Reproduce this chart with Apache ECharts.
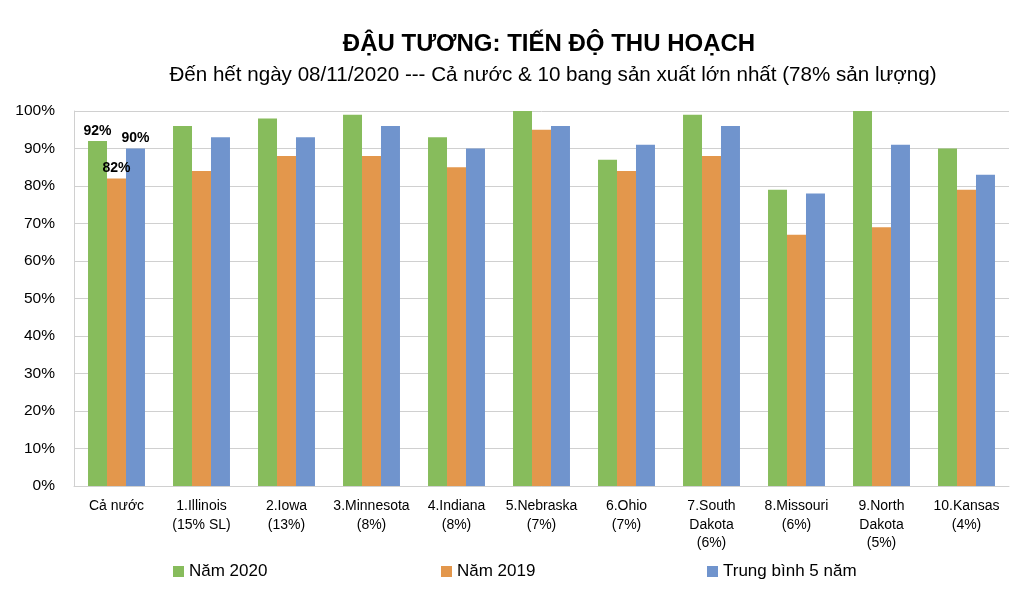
<!DOCTYPE html>
<html>
<head>
<meta charset="utf-8">
<style>
body { margin: 0; background: #fff; }
#chart { width: 1024px; height: 598px; }
</style>
<script src="https://cdn.jsdelivr.net/npm/echarts@6/dist/echarts.min.js"></script>
</head>
<body>
<div id="chart"></div>
<script>
// categories and series values
const categories = [
  "Cả nước", "1.Illinois\n(15% SL)", "2.Iowa\n(13%)", "3.Minnesota\n(8%)",
  "4.Indiana\n(8%)", "5.Nebraska\n(7%)", "6.Ohio\n(7%)", "7.South\nDakota\n(6%)",
  "8.Missouri\n(6%)", "9.North\nDakota\n(5%)", "10.Kansas\n(4%)"
];
const nam2020 = [92, 96, 98, 99, 93, 100, 87, 99, 79, 100, 90];
const nam2019 = [82, 84, 88, 88, 85, 95, 84, 88, 67, 69, 79];
const tb5nam = [90, 93, 93, 96, 90, 96, 91, 96, 78, 91, 83];
const seriesNames = ["Năm 2020", "Năm 2019", "Trung bình 5 năm"];
const colors = ["#87BC5C", "#E3974C", "#7094CD"];

const font = "'Liberation Sans', sans-serif";

// only the first group ("Cả nước") carries value labels
function withFirstLabel(values) {
  return values.map((v, i) => i === 0
    ? { value: v, label: { show: true, position: "top", formatter: "{c}%",
        fontWeight: "bold", fontSize: 14, color: "#000", fontFamily: font, distance: 3 } }
    : v);
}

const chart = echarts.init(document.getElementById("chart"), null, { renderer: "canvas" });
chart.setOption({
  animation: false,
  title: [
    { text: "ĐẬU TƯƠNG: TIẾN ĐỘ THU HOẠCH", left: 544, top: 27, textAlign: "center",
      textStyle: { fontFamily: font, fontSize: 24, fontWeight: "bold", color: "#000" } },
    { text: "Đến hết ngày 08/11/2020 --- Cả nước & 10 bang sản xuất lớn nhất (78% sản lượng)",
      left: 548, top: 60, textAlign: "center",
      textStyle: { fontFamily: font, fontSize: 20.6, fontWeight: "normal", color: "#000" } }
  ],
  legend: seriesNames.map((name, i) => ({
    data: [name],
    left: [168, 436, 702][i],
    top: 558,
    itemWidth: 11, itemHeight: 11,
    icon: "rect",
    textStyle: { fontFamily: font, fontSize: 17, color: "#000" }
  })),
  grid: { left: 74, right: 15, top: 111, bottom: 112 },
  xAxis: {
    type: "category",
    data: categories,
    axisLine: { lineStyle: { color: "#d0d0d0" } },
    axisTick: { show: false },
    axisLabel: { interval: 0, margin: 11, lineHeight: 18.5,
      fontFamily: font, fontSize: 14, color: "#000" }
  },
  yAxis: {
    type: "value", min: 0, max: 100, interval: 10,
    axisLine: { show: true, lineStyle: { color: "#d0d0d0" } },
    axisTick: { show: false },
    splitLine: { lineStyle: { color: "#d0d0d0", width: 1 } },
    axisLabel: { formatter: "{value}%", margin: 19,
      fontFamily: font, fontSize: 15.5, color: "#000" }
  },
  series: [nam2020, nam2019, tb5nam].map((vals, i) => ({
    name: seriesNames[i],
    type: "bar",
    data: withFirstLabel(vals),
    barGap: "0%",
    barCategoryGap: "33%",
    itemStyle: { color: colors[i] }
  }))
});
</script>
</body>
</html>
